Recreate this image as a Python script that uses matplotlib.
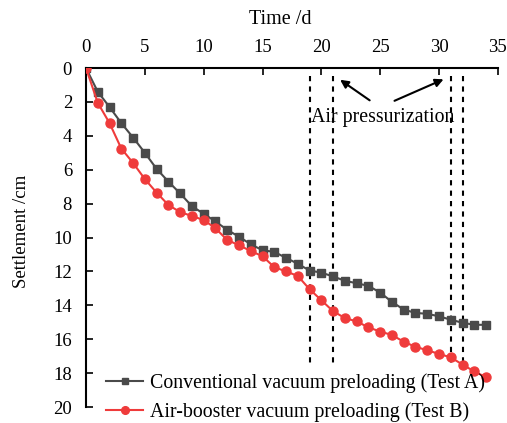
import matplotlib
matplotlib.use("Agg")
import matplotlib.pyplot as plt

plt.rcParams['font.family'] = ['Liberation Serif', 'DejaVu Serif']

days = list(range(0, 35))
test_a = [0, 1.4, 2.3, 3.25, 4.1, 5.0, 5.95, 6.7, 7.4, 8.15, 8.6,
          9.05, 9.55, 9.95, 10.4, 10.75, 10.85, 11.2, 11.55, 11.95, 12.07,
          12.3, 12.55, 12.7, 12.85, 13.25, 13.8, 14.25, 14.45, 14.5, 14.65,
          14.85, 15.03, 15.15, 15.15]
test_b = [0, 2.05, 3.25, 4.75, 5.6, 6.55, 7.35, 8.08, 8.5, 8.73, 8.97,
          9.45, 10.15, 10.45, 10.8, 11.1, 11.75, 12.0, 12.27, 13.05, 13.7,
          14.35, 14.75, 14.95, 15.3, 15.55, 15.75, 16.15, 16.45, 16.65, 16.87,
          17.07, 17.5, 17.9, 18.25]
label_a = "Conventional vacuum preloading (Test A)"
label_b = "Air-booster vacuum preloading (Test B)"
pressurization_days = [19, 21, 31, 32]
xticks = [0, 5, 10, 15, 20, 25, 30, 35]
yticks = [0, 2, 4, 6, 8, 10, 12, 14, 16, 18, 20]

fig = plt.figure(figsize=(5.07, 4.23), dpi=100)
ax = fig.add_axes([0.1696, 0.0378, 0.8124, 0.8014])

for d in pressurization_days:
    ax.plot([d, d], [0.5, 17.5], color='black', lw=1.5, ls=(0, (2.5, 2.5)), zorder=1)

ax.plot(days, test_a, color='#4a4a4a', marker='s', ms=5.5, lw=1.5, label=label_a, zorder=3)
ax.plot(days, test_b, color='#ef3b3b', marker='o', ms=6.5, lw=1.5, label=label_b, zorder=4)

ax.set_xlim(0, 35)
ax.set_ylim(20, 0)
ax.set_xticks(xticks)
ax.set_yticks(yticks)
ax.xaxis.tick_top()
ax.xaxis.set_label_position('top')
ax.tick_params(direction='in', length=5, width=1.2, labelsize=13.5)
ax.tick_params(axis='x', pad=9)
ax.tick_params(axis='y', pad=10)
ax.spines['right'].set_visible(False)
ax.spines['bottom'].set_visible(False)
for s in ['left', 'top']:
    ax.spines[s].set_linewidth(1.5)
ax.set_xlabel("Time /d", fontsize=14.5)
ax.set_ylabel("Settlement /cm", fontsize=13.5)
ax.xaxis.set_label_coords(0.471, 1.13)
ax.yaxis.set_label_coords(-0.136, 0.519)

ax.text(25.2, 2.9, "Air pressurization", fontsize=14.3, ha='center', va='center', zorder=2)
ax.annotate("", xy=(21.4, 0.6), xytext=(24.3, 2.0),
            arrowprops=dict(arrowstyle='-|>', color='black', lw=1.5, mutation_scale=12))
ax.annotate("", xy=(30.6, 0.6), xytext=(26.0, 2.0),
            arrowprops=dict(arrowstyle='-|>', color='black', lw=1.5, mutation_scale=12))

leg = ax.legend(loc='center left', bbox_to_anchor=(0.048, 0.028), frameon=False,
                fontsize=14.3, borderpad=0, borderaxespad=0, handlelength=1.9,
                handletextpad=0.35, labelspacing=0.45, markerscale=0.85)

fig.savefig("out.png", dpi=100)
